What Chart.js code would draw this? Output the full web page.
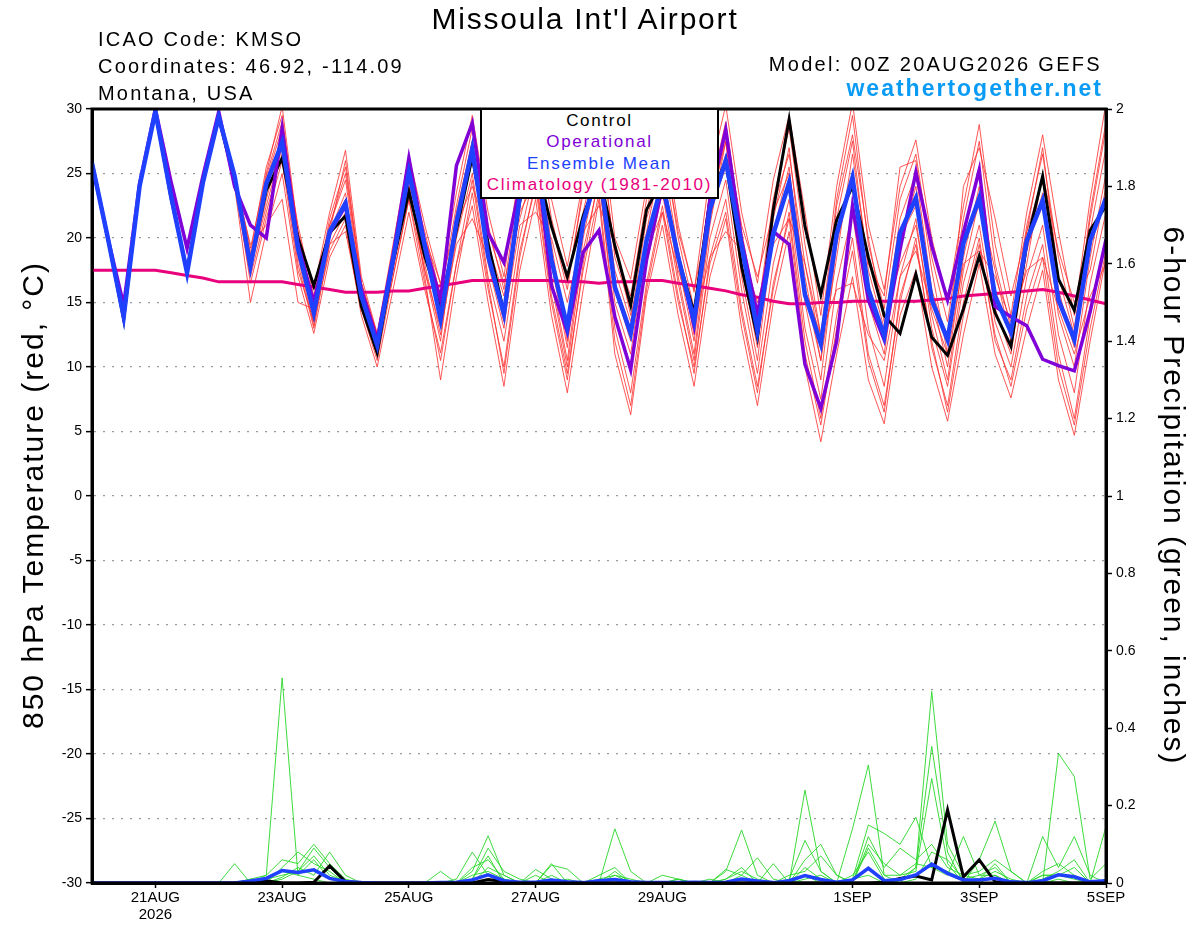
<!DOCTYPE html>
<html>
<head>
<meta charset="utf-8">
<title>Missoula Int'l Airport - GEFS</title>
<script src="https://cdn.jsdelivr.net/npm/chart.js@4.4.1/dist/chart.umd.min.js"></script>
<style>
  html, body { margin: 0; padding: 0; background: #fff; }
  #wrap { position: relative; width: 1200px; height: 927px; font-family: "Liberation Sans", Arial, Helvetica, sans-serif; color: #000; }
  #wrap canvas { position: absolute; left: 0; top: 0; }
  .txt { position: absolute; white-space: nowrap; }
  #title { left: 285px; width: 600px; top: 4px; font-size: 30px; line-height: 30px; text-align: center; letter-spacing: 1.8px; }
  .info { left: 98px; font-size: 20px; line-height: 20px; letter-spacing: 2.2px; }
  #model { right: 98px; top: 54px; font-size: 20px; line-height: 20px; text-align: right; letter-spacing: 2.3px; }
  #site { right: 97px; top: 77px; font-size: 23px; line-height: 23px; font-weight: bold; color: #0a9cf5; text-align: right; letter-spacing: 2px; }
  .axisTitle { position: absolute; width: 640px; height: 30px; font-size: 30px; line-height: 30px; text-align: center; white-space: nowrap; letter-spacing: 2px; }
  #yTitle { left: -287px; top: 480px; transform: rotate(-90deg); }
  #y2Title { left: 854px; top: 481px; transform: rotate(90deg); letter-spacing: 1.95px; }
  #legendBox { position: absolute; left: 480px; top: 108px; width: 235px; height: 87px; border: 2px solid #000; background: #fff; text-align: center; font-size: 17px; line-height: 21.3px; letter-spacing: 1.7px; z-index: 2; }
</style>
</head>
<body>
<div id="wrap">
  <canvas id="chart" width="1200" height="927"></canvas>
  <div class="txt" id="title">Missoula Int'l Airport</div>
  <div class="txt info" style="top:29px">ICAO Code: KMSO</div>
  <div class="txt info" style="top:56px">Coordinates: 46.92, -114.09</div>
  <div class="txt info" style="top:83px">Montana, USA</div>
  <div class="txt" id="model">Model: 00Z 20AUG2026 GEFS</div>
  <div class="txt" id="site">weathertogether.net</div>
  <div class="axisTitle" id="yTitle">850 hPa Temperature (red, °C)</div>
  <div class="axisTitle" id="y2Title">6-hour Precipitation (green, inches)</div>
  <div id="legendBox">
    <div style="color:#000">Control</div>
    <div style="color:#8000d8">Operational</div>
    <div style="color:#2040ff">Ensemble Mean</div>
    <div style="color:#e8007c">Climatology (1981-2010)</div>
  </div>
</div>
<script>
// forecast hours, 6-hourly from 00Z 20AUG2026 to 00Z 5SEP2026
const hours = Array.from({length: 65}, (_, i) => i * 6);

const tickHours = [24, 72, 120, 168, 216, 288, 336, 384];
const tickLabels = [['21AUG', '2026'], '23AUG', '25AUG', '27AUG', '29AUG', '1SEP', '3SEP', '5SEP'];
const tempTicks = [-30, -25, -20, -15, -10, -5, 0, 5, 10, 15, 20, 25, 30];
const precipTicks = [0, 0.2, 0.4, 0.6, 0.8, 1, 1.2, 1.4, 1.6, 1.8, 2];

// 850 hPa temperature (C)
const controlT = [
  25.8, 20.0, 13.7, 24.0, 29.8, 23.0, 17.5, 24.5,
  29.3, 24.6, 18.0, 23.7, 26.2, 20.0, 16.3, 20.4,
  21.7, 14.7, 11.1, 18.1, 23.6, 18.6, 14.7, 20.6,
  26.3, 19.6, 14.2, 22.9, 26.0, 20.9, 17.0, 21.7,
  25.0, 19.4, 14.8, 22.2, 24.5, 18.5, 14.2, 23.0,
  26.0, 17.8, 12.3, 22.2, 29.2, 20.9, 15.6, 21.4,
  24.0, 18.5, 14.0, 12.6, 17.2, 12.3, 10.9, 14.5,
  18.6, 14.2, 11.6, 19.6, 24.8, 16.8, 14.4, 20.6,
  22.5];
const operationalT = [
  25.8, 20.0, 14.8, 24.2, 30.0, 24.3, 19.2, 24.8,
  29.8, 24.0, 21.0, 20.0, 28.5, 19.5, 15.0, 20.4,
  22.5, 16.0, 12.1, 18.6, 26.2, 19.6, 15.2, 25.6,
  28.9, 20.4, 18.1, 24.0, 27.0, 16.3, 12.7, 18.9,
  20.6, 13.9, 9.8, 18.3, 24.0, 18.6, 13.2, 23.0,
  28.4, 19.8, 14.1, 20.5, 19.5, 10.2, 6.8, 12.0,
  22.5, 15.2, 12.1, 19.1, 25.1, 19.4, 15.2, 20.4,
  25.3, 14.7, 13.9, 13.2, 10.6, 10.1, 9.7, 14.3,
  19.9];
const meanT = [
  25.8, 20.0, 13.9, 24.0, 29.8, 23.2, 17.3, 24.3,
  29.4, 24.8, 17.8, 24.2, 27.4, 19.2, 14.2, 20.5,
  22.7, 15.5, 11.7, 18.3, 25.1, 19.4, 13.7, 21.2,
  26.9, 18.6, 14.1, 23.2, 26.5, 18.3, 13.1, 21.2,
  25.5, 16.2, 12.6, 19.8, 24.3, 18.5, 13.6, 22.2,
  26.0, 19.4, 12.8, 20.3, 24.3, 15.6, 11.8, 20.3,
  24.7, 16.0, 12.4, 20.4, 23.1, 15.2, 12.1, 19.6,
  23.1, 15.5, 12.7, 19.8, 22.9, 15.2, 12.1, 19.8,
  23.1];
const climoT = [
  17.5, 17.5, 17.5, 17.5, 17.5, 17.3, 17.1, 16.9,
  16.6, 16.6, 16.6, 16.6, 16.6, 16.4, 16.2, 16.0,
  15.8, 15.8, 15.8, 15.9, 15.9, 16.1, 16.3, 16.5,
  16.7, 16.7, 16.7, 16.7, 16.7, 16.7, 16.6, 16.6,
  16.5, 16.6, 16.6, 16.7, 16.7, 16.5, 16.3, 16.1,
  15.9, 15.6, 15.4, 15.1, 14.9, 14.9, 15.0, 15.0,
  15.1, 15.1, 15.1, 15.1, 15.1, 15.2, 15.3, 15.5,
  15.6, 15.7, 15.8, 15.9, 16.0, 15.8, 15.5, 15.2,
  14.9];

// ensemble members (temperature)
const member01 = [
  25.8, 20.1, 13.8, 24.1, 29.9, 23.4, 17.6, 24.6,
  29.9, 25.0, 19.2, 25.0, 30.2, 20.5, 16.0, 22.0,
  26.8, 17.0, 12.6, 19.5, 26.4, 21.0, 16.4, 23.5,
  29.5, 22.0, 17.0, 25.5, 30.2, 23.0, 17.8, 24.5,
  30.5, 20.0, 16.8, 24.0, 29.0, 21.0, 15.8, 25.0,
  30.3, 22.0, 16.5, 24.5, 29.5, 22.0, 14.0, 24.0,
  30.5, 21.0, 16.0, 24.0, 27.6, 20.0, 15.0, 22.5,
  28.8, 19.5, 14.0, 22.0, 28.0, 20.5, 14.0, 23.0,
  30.5];
const member02 = [
  25.7, 19.9, 13.6, 23.8, 29.6, 22.8, 17.0, 24.0,
  29.0, 24.0, 15.0, 20.5, 25.0, 17.0, 12.6, 18.5,
  21.0, 14.0, 10.0, 16.0, 22.0, 16.0, 11.1, 18.0,
  22.5, 15.0, 8.5, 17.5, 23.0, 14.0, 8.0, 16.0,
  23.0, 11.0, 6.3, 15.5, 21.0, 14.0, 8.5, 17.0,
  21.5, 13.0, 7.0, 15.0, 20.5, 10.0, 4.2, 11.0,
  17.0, 9.0, 5.6, 14.0, 17.5, 10.0, 5.8, 12.5,
  18.0, 11.0, 7.6, 13.0, 17.5, 9.0, 4.7, 12.0,
  18.5];
const member03 = [
  25.9, 20.0, 14.0, 24.2, 29.7, 23.0, 17.2, 24.4,
  29.5, 24.5, 18.5, 24.5, 28.5, 19.0, 13.5, 20.5,
  23.5, 15.0, 11.0, 19.0, 25.5, 19.5, 14.0, 22.0,
  27.5, 19.0, 14.5, 23.0, 28.0, 19.5, 12.0, 22.0,
  27.5, 16.0, 12.0, 20.5, 26.5, 19.0, 12.5, 22.5,
  27.5, 18.0, 11.5, 21.5, 27.0, 16.0, 10.5, 21.5,
  27.5, 17.5, 13.0, 21.5, 25.0, 16.0, 12.0, 20.0,
  25.5, 16.0, 12.5, 20.5, 24.5, 16.0, 11.5, 20.5,
  27.0];
const member04 = [
  25.8, 19.9, 13.8, 23.9, 29.8, 23.1, 17.4, 24.2,
  29.2, 24.2, 17.0, 22.0, 26.5, 18.0, 13.0, 19.5,
  22.0, 15.5, 12.0, 17.5, 24.0, 18.0, 12.5, 20.0,
  25.0, 17.0, 12.0, 20.0, 25.5, 16.5, 10.0, 19.0,
  24.5, 14.0, 9.5, 18.0, 23.5, 16.5, 10.5, 20.0,
  24.5, 16.0, 9.5, 18.0, 23.0, 13.0, 7.5, 16.5,
  22.0, 13.0, 8.5, 17.0, 21.5, 13.0, 8.5, 16.5,
  21.0, 13.5, 10.0, 17.0, 21.0, 12.5, 8.0, 16.5,
  22.0];
const member05 = [
  25.8, 20.0, 13.9, 24.0, 29.8, 23.2, 17.3, 24.3,
  29.4, 24.5, 19.5, 21.0, 23.0, 15.0, 14.5, 19.5,
  20.5, 14.5, 11.5, 17.0, 23.0, 17.5, 13.0, 19.5,
  21.5, 18.5, 13.5, 21.0, 22.0, 20.0, 15.0, 20.5,
  22.5, 19.5, 14.0, 19.0, 22.0, 17.5, 13.5, 18.5,
  20.5, 19.0, 15.0, 19.5, 21.5, 18.0, 12.5, 16.0,
  16.5, 12.5, 10.5, 17.0, 19.0, 14.5, 11.0, 18.0,
  19.0, 17.0, 13.5, 17.5, 18.5, 14.5, 11.0, 15.5,
  18.0];
const member06 = [
  25.8, 20.1, 14.1, 24.1, 29.9, 23.3, 17.5, 24.5,
  29.6, 25.0, 18.8, 25.5, 29.5, 20.0, 15.0, 21.5,
  25.5, 16.5, 12.2, 18.5, 25.0, 20.5, 15.5, 22.5,
  28.5, 21.0, 16.0, 24.5, 29.5, 21.5, 16.5, 23.5,
  29.0, 18.5, 14.5, 22.0, 28.0, 20.0, 14.5, 23.5,
  29.0, 20.5, 14.0, 23.0, 28.5, 19.5, 12.5, 23.0,
  29.5, 19.5, 14.5, 23.0, 26.5, 18.5, 13.5, 21.5,
  27.5, 18.0, 13.0, 21.0, 26.5, 18.5, 13.0, 21.5,
  28.5];
const member07 = [
  25.8, 20.0, 13.7, 24.0, 29.7, 23.0, 17.2, 24.2,
  29.3, 24.3, 17.5, 23.0, 27.5, 19.5, 14.0, 20.0,
  23.0, 15.0, 10.8, 18.0, 24.5, 17.0, 9.0, 17.0,
  23.5, 16.0, 10.0, 19.0, 24.0, 15.0, 9.0, 18.0,
  25.0, 13.0, 8.0, 16.5, 22.5, 15.5, 9.5, 18.5,
  23.0, 14.5, 8.5, 16.0, 22.0, 12.0, 6.0, 14.0,
  20.0, 11.0, 7.0, 15.0, 20.0, 11.5, 7.0, 15.0,
  20.0, 12.0, 9.0, 15.5, 19.5, 11.0, 6.0, 14.0,
  20.0];
const member08 = [
  25.8, 20.0, 13.9, 24.1, 29.8, 23.2, 17.4, 24.4,
  29.5, 24.8, 18.0, 24.0, 28.0, 21.0, 15.5, 21.0,
  24.5, 16.0, 11.8, 18.8, 25.5, 19.0, 13.5, 21.5,
  26.5, 18.0, 13.0, 22.5, 27.0, 18.0, 11.5, 21.5,
  26.5, 15.0, 11.0, 19.5, 25.0, 18.0, 12.0, 21.5,
  26.5, 17.0, 10.5, 20.5, 25.5, 15.0, 9.0, 19.5,
  25.0, 15.0, 11.0, 19.5, 24.0, 15.5, 10.0, 18.5,
  24.0, 14.5, 11.0, 19.0, 23.5, 14.0, 10.0, 18.5,
  25.0];
const member09 = [
  25.8, 20.0, 13.8, 24.0, 29.9, 23.1, 17.4, 24.3,
  29.6, 24.7, 18.3, 24.8, 29.0, 20.5, 14.5, 21.0,
  25.0, 16.5, 12.5, 19.0, 24.5, 20.0, 16.5, 21.0,
  24.0, 20.5, 16.5, 21.5, 26.0, 21.0, 16.0, 24.0,
  28.0, 19.0, 15.5, 23.0, 27.5, 20.5, 16.0, 22.0,
  28.0, 21.0, 17.0, 22.0, 25.0, 17.0, 10.5, 18.5,
  26.5, 18.0, 15.5, 25.5, 26.0, 17.5, 11.0, 24.0,
  27.0, 21.5, 15.5, 20.5, 27.0, 17.0, 12.5, 22.0,
  29.0];
const member10 = [
  25.8, 20.0, 13.9, 24.0, 29.8, 23.2, 17.3, 24.3,
  29.4, 24.4, 16.5, 21.5, 26.0, 17.5, 13.5, 19.0,
  21.5, 14.5, 10.5, 17.0, 23.0, 16.5, 10.5, 18.0,
  24.5, 16.5, 9.5, 18.5, 24.5, 15.5, 9.5, 17.5,
  23.5, 12.0, 7.0, 16.0, 22.0, 15.0, 10.0, 18.0,
  22.0, 14.0, 8.0, 16.5, 21.5, 11.0, 5.5, 13.0,
  19.0, 10.5, 6.5, 15.5, 19.5, 12.0, 6.5, 14.0,
  19.5, 12.5, 8.5, 14.5, 18.5, 10.0, 5.5, 13.0,
  19.0];
const member11 = [
  25.8, 20.0, 13.9, 24.1, 29.8, 23.2, 17.3, 24.3,
  29.5, 24.9, 18.2, 24.5, 27.0, 19.0, 14.0, 20.5,
  23.0, 15.8, 11.9, 18.5, 25.0, 19.5, 14.5, 21.0,
  26.0, 18.5, 14.0, 23.5, 26.0, 18.5, 13.5, 21.0,
  25.5, 16.5, 13.0, 19.5, 24.0, 18.5, 13.5, 22.0,
  25.5, 19.5, 13.5, 20.0, 24.0, 16.0, 12.5, 20.5,
  24.0, 16.5, 12.5, 20.0, 22.5, 15.5, 12.5, 19.5,
  22.5, 15.5, 13.0, 19.5, 22.5, 15.5, 12.5, 19.5,
  23.0];
const member12 = [
  25.8, 20.0, 14.0, 24.0, 29.7, 23.3, 17.4, 24.2,
  29.3, 24.6, 17.6, 22.5, 27.0, 18.5, 13.2, 20.5,
  26.0, 16.5, 12.5, 18.0, 24.0, 17.5, 12.0, 21.5,
  27.5, 19.5, 15.5, 22.0, 24.5, 17.0, 10.5, 20.0,
  26.0, 17.5, 13.5, 21.5, 25.5, 17.0, 11.0, 21.0,
  27.5, 17.5, 12.0, 22.5, 26.5, 18.0, 11.5, 22.5,
  28.0, 20.0, 13.5, 18.0, 21.0, 14.0, 9.0, 17.5,
  23.0, 17.5, 12.0, 18.0, 25.0, 19.0, 15.0, 17.5,
  24.0];
const tempMembers = [member01, member02, member03, member04, member05, member06,
                     member07, member08, member09, member10, member11, member12];

// 6-hour precipitation (inches)
const controlP = [
  0, 0, 0, 0, 0, 0, 0, 0,
  0, 0, 0.004, 0.006, 0, 0, 0.002, 0.044,
  0.004, 0, 0, 0, 0, 0, 0, 0,
  0, 0.009, 0.004, 0, 0, 0, 0, 0,
  0, 0, 0, 0, 0, 0, 0, 0,
  0, 0, 0, 0, 0, 0, 0, 0,
  0, 0, 0.002, 0.012, 0.018, 0.008, 0.189, 0.016,
  0.06, 0.003, 0, 0, 0, 0, 0, 0,
  0];
const meanP = [
  0, 0, 0, 0, 0, 0, 0, 0,
  0, 0, 0.005, 0.012, 0.032, 0.027, 0.034, 0.012,
  0.004, 0.001, 0, 0, 0, 0, 0.001, 0.002,
  0.008, 0.021, 0.006, 0.002, 0.002, 0.008, 0.003, 0.001,
  0.006, 0.009, 0.003, 0.001, 0.001, 0.001, 0.002, 0.001,
  0.002, 0.01, 0.005, 0.001, 0.006, 0.019, 0.009, 0.002,
  0.008, 0.038, 0.006, 0.009, 0.021, 0.049, 0.025, 0.008,
  0.008, 0.012, 0.003, 0.001, 0.006, 0.021, 0.016, 0.003,
  0.006];

// ensemble members (precipitation)
const pMember01 = [
  0, 0, 0, 0, 0, 0, 0, 0,
  0, 0, 0.01, 0.02, 0.53, 0.02, 0.01, 0,
  0, 0, 0, 0, 0, 0, 0, 0,
  0.02, 0.03, 0.01, 0, 0, 0.05, 0, 0,
  0, 0.14, 0.03, 0, 0, 0, 0, 0,
  0.03, 0.137, 0.02, 0, 0, 0.04, 0.01, 0,
  0.01, 0.02, 0, 0.01, 0.04, 0.495, 0.1, 0.02,
  0.01, 0.05, 0, 0, 0, 0.335, 0.275, 0.01,
  0.05];
const pMember02 = [
  0, 0, 0, 0, 0, 0, 0, 0,
  0, 0.05, 0, 0.02, 0.06, 0.05, 0.1, 0.05,
  0.01, 0, 0, 0, 0, 0, 0, 0.01,
  0.08, 0.02, 0, 0, 0.035, 0.01, 0, 0,
  0.02, 0.04, 0, 0, 0, 0.01, 0, 0,
  0.035, 0.02, 0, 0.05, 0, 0.24, 0.03, 0,
  0.14, 0.305, 0.02, 0, 0.04, 0.353, 0.08, 0,
  0.06, 0.16, 0.03, 0, 0.02, 0.02, 0.01, 0,
  0.146];
const pMember03 = [
  0, 0, 0, 0, 0, 0, 0, 0,
  0, 0, 0.01, 0, 0.04, 0.08, 0.05, 0.03,
  0, 0, 0, 0, 0, 0, 0.03, 0,
  0.03, 0.122, 0.02, 0, 0, 0.046, 0.036, 0,
  0, 0.03, 0, 0, 0.02, 0.01, 0, 0,
  0, 0.02, 0.065, 0.01, 0, 0.06, 0.1, 0.02,
  0, 0.12, 0.04, 0.09, 0.06, 0.1, 0.04, 0.02,
  0.03, 0.06, 0.03, 0, 0.12, 0.04, 0.12, 0.02,
  0];
const pMember04 = [
  0, 0, 0, 0, 0, 0, 0, 0,
  0, 0, 0.003, 0.01, 0.02, 0.03, 0.07, 0.02,
  0.005, 0, 0, 0, 0, 0, 0, 0,
  0.04, 0.06, 0.01, 0, 0.02, 0, 0, 0,
  0, 0.01, 0, 0, 0, 0, 0, 0.01,
  0, 0.01, 0, 0, 0.01, 0.11, 0.03, 0,
  0.01, 0.15, 0.128, 0.1, 0.17, 0.04, 0.03, 0.01,
  0, 0.02, 0, 0, 0.01, 0.03, 0.06, 0,
  0];
const pMember05 = [
  0, 0, 0, 0, 0, 0, 0, 0,
  0, 0, 0, 0.015, 0.03, 0.02, 0.06, 0.01,
  0, 0, 0, 0, 0, 0, 0, 0,
  0.01, 0.09, 0.03, 0.01, 0, 0.02, 0, 0,
  0.01, 0.02, 0.01, 0, 0, 0, 0, 0,
  0.01, 0.04, 0, 0, 0.02, 0.03, 0.07, 0.02,
  0, 0.1, 0.05, 0.02, 0.03, 0.27, 0.05, 0,
  0.01, 0.03, 0.01, 0, 0.03, 0.05, 0.02, 0,
  0.01];
const pMember06 = [
  0, 0, 0, 0, 0, 0, 0, 0,
  0, 0, 0, 0, 0.015, 0.04, 0.02, 0.08,
  0.02, 0, 0, 0, 0, 0, 0, 0,
  0, 0.04, 0.02, 0, 0, 0, 0.01, 0,
  0, 0, 0, 0, 0, 0.01, 0, 0,
  0.01, 0.03, 0.01, 0, 0, 0.02, 0, 0,
  0.02, 0.08, 0.01, 0, 0.01, 0.08, 0.06, 0.01,
  0.02, 0.04, 0, 0, 0.02, 0.02, 0.04, 0,
  0];
const pMember07 = [
  0, 0, 0, 0, 0, 0, 0, 0,
  0, 0, 0, 0, 0.01, 0.03, 0.09, 0.04,
  0, 0, 0, 0, 0, 0, 0, 0,
  0.01, 0.07, 0, 0, 0, 0.01, 0, 0,
  0, 0.02, 0, 0, 0, 0, 0, 0,
  0, 0, 0, 0, 0, 0.01, 0.02, 0,
  0, 0.09, 0.02, 0.02, 0.05, 0.04, 0.02, 0.12,
  0.02, 0.02, 0, 0, 0, 0.01, 0, 0,
  0];
const precipMembers = [pMember01, pMember02, pMember03, pMember04, pMember05, pMember06, pMember07];

const FONT = '"Liberation Sans", Arial, Helvetica, sans-serif';
Chart.defaults.font.family = FONT;
Chart.defaults.color = '#000';

function line(values, color, width, axis, order) {
    return {
        data: values,
        borderColor: color,
        borderWidth: width,
        yAxisID: axis,
        order: order,
        pointRadius: 0,
        tension: 0,
        fill: false
    };
}

let datasets = [];
datasets.push(line(meanT, '#2040ff', 4.5, 'y', 0));
datasets.push(line(operationalT, '#8000d8', 3.5, 'y', 1));
datasets.push(line(controlT, '#000000', 3, 'y', 2));
datasets.push(line(climoT, '#e8007c', 3, 'y', 3));
datasets.push(line(meanP, '#2040ff', 3.5, 'y2', 4));
datasets.push(line(controlP, '#000000', 3, 'y2', 5));
for (let i = 0; i < tempMembers.length; i++) {
    datasets.push(line(tempMembers[i], 'rgba(255,45,45,0.8)', 1, 'y', 10));
}
for (let i = 0; i < precipMembers.length; i++) {
    datasets.push(line(precipMembers[i], 'rgba(40,215,40,0.9)', 1, 'y2', 10));
}

// heavy black frame round the plot, drawn over the lines
const framePlugin = {
    id: 'frame',
    afterDatasetsDraw(chart) {
        const {ctx, chartArea} = chart;
        ctx.save();
        ctx.strokeStyle = '#000';
        ctx.lineWidth = 3;
        ctx.strokeRect(chartArea.left, chartArea.top, chartArea.right - chartArea.left, chartArea.bottom - chartArea.top);
        ctx.restore();
    }
};

const config = {
    type: 'line',
    data: { labels: hours, datasets: datasets },
    options: {
        responsive: false,
        animation: false,
        layout: { padding: { top: 109, left: 0, right: 0, bottom: 0 } },
        plugins: { legend: { display: false }, tooltip: { enabled: false } },
        scales: {
            x: {
                type: 'linear', min: 0, max: 384,
                afterBuildTicks: s => { s.ticks = tickHours.map(v => ({ value: v })); },
                afterFit: s => { s.height = 44; },
                grid: { drawOnChartArea: false, tickLength: 5, tickColor: '#000', tickWidth: 1.5 },
                border: { color: '#000', width: 3 },
                ticks: {
                    autoSkip: false, maxRotation: 0, padding: 1,
                    font: { size: 15, lineHeight: 1.15 },
                    callback: v => tickLabels[tickHours.indexOf(v)]
                }
            },
            y: {
                position: 'left', min: -30, max: 30,
                afterBuildTicks: s => { s.ticks = tempTicks.map(v => ({ value: v })); },
                afterFit: s => { s.width = 92; },
                grid: { color: '#9a9a9a', lineWidth: 1.3, tickLength: 6, tickColor: '#000', tickWidth: 1.5 },
                border: { color: '#000', width: 3, dash: [2, 7] },
                ticks: { padding: 4, font: { size: 14 }, callback: v => String(v) }
            },
            y2: {
                position: 'right', min: 0, max: 2,
                afterBuildTicks: s => { s.ticks = precipTicks.map(v => ({ value: v })); },
                afterFit: s => { s.width = 94; },
                grid: { drawOnChartArea: false, tickLength: 6, tickColor: '#000', tickWidth: 1.5 },
                border: { color: '#000', width: 3 },
                ticks: { padding: 4, font: { size: 14 }, callback: v => String(Math.round(v * 10) / 10) }
            }
        }
    },
    plugins: [framePlugin]
};

const myChart = new Chart(document.getElementById('chart'), config);
</script>
</body>
</html>
